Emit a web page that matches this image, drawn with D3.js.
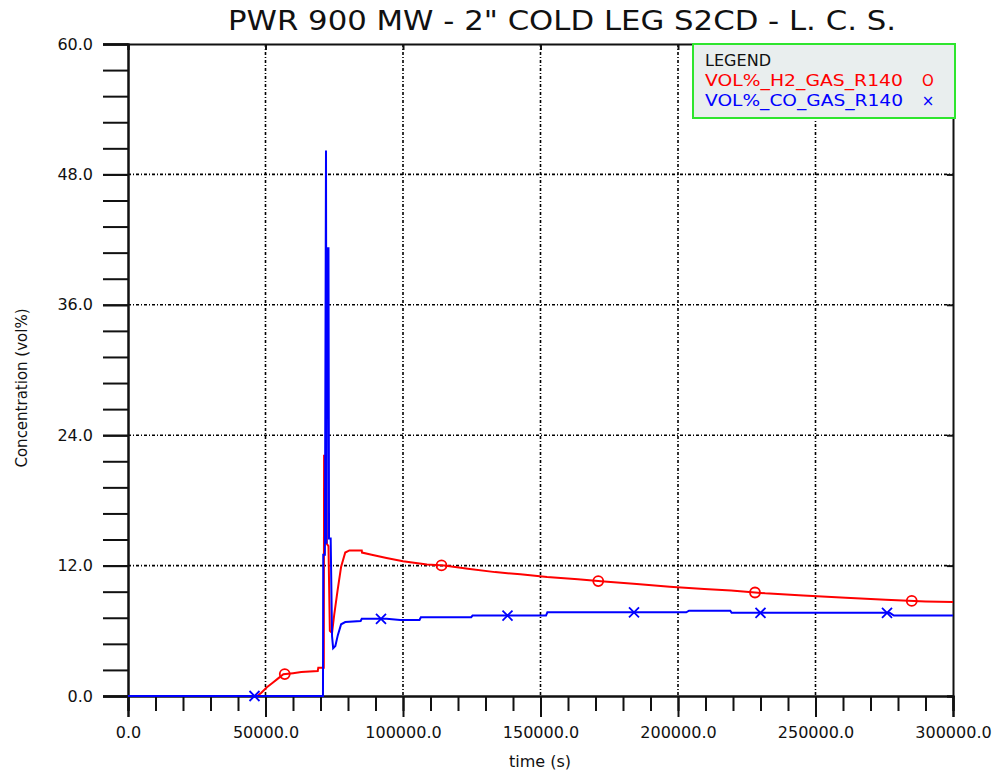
<!DOCTYPE html>
<html>
<head>
<meta charset="utf-8">
<script src="https://cdn.jsdelivr.net/npm/d3@7"></script>
<style>
  html, body { margin: 0; padding: 0; background: #fff; }
  svg { display: block; }
  text { font-family: "DejaVu Sans", sans-serif; }
</style>
</head>
<body>
<svg id="chart" width="995" height="778"></svg>
<script>
// ---------------- data ----------------
const chartTitle = "PWR 900 MW - 2\" COLD LEG S2CD - L. C. S.";
const xLabel = "time (s)";
const yLabel = "Concentration (vol%)";
const seriesNames = ["VOL%_H2_GAS_R140", "VOL%_CO_GAS_R140"];
const seriesSymbols = ["O", "×"];

const xTickValues = [0, 50000, 100000, 150000, 200000, 250000, 300000];
const xTickLabels = ["0.0", "50000.0", "100000.0", "150000.0", "200000.0", "250000.0", "300000.0"];
const yTickValues = [0, 12, 24, 36, 48, 60];
const yTickLabels = ["0.0", "12.0", "24.0", "36.0", "48.0", "60.0"];

const h2Time = [0, 47000, 48500, 50500, 52500, 54500, 56500, 60000, 63000, 69000, 69200, 71200,
  71300, 72000, 72300, 72900, 73400, 74200, 75000, 76200, 77500, 79000, 80500, 85000, 85100,
  88600, 94000, 100000, 108700, 115000, 123600, 133500, 142700, 152400, 163600, 172000, 185000,
  197000, 209500, 219300, 231700, 245500, 261000, 275500, 290000, 300000];
const h2Vals = [0, 0, 0.3, 0.8, 1.2, 1.6, 2.0, 2.1, 2.2, 2.3, 2.6, 2.6,
  22.1, 22.1, 14.0, 13.8, 6.0, 5.8, 7.5, 9.7, 11.9, 13.2, 13.4, 13.4, 13.2,
  13.0, 12.7, 12.4, 12.1, 12.0, 11.7, 11.4, 11.2, 10.95, 10.75, 10.55, 10.3,
  10.05, 9.85, 9.7, 9.45, 9.25, 9.05, 8.85, 8.7, 8.65];

const coTime = [0, 70900, 71000, 71600, 72000, 72200, 72400, 72900, 73100, 73700, 74200, 74600,
  75400, 76300, 77500, 79000, 84600, 85000, 94000, 99000, 106000, 106500, 124800, 125300,
  152000, 152500, 203000, 204000, 219000, 219500, 277000, 278500, 300000];
const coVals = [0, 0, 13, 13, 50.2, 14, 41.2, 41.2, 14.5, 14.5, 5.5, 4.4,
  4.6, 5.6, 6.6, 6.8, 6.9, 7.1, 7.1, 7.0, 7.0, 7.25, 7.25, 7.4,
  7.4, 7.7, 7.7, 7.85, 7.85, 7.65, 7.65, 7.4, 7.4];

const h2MarkerTimes = [57000, 114000, 171000, 228000, 285000];
const coMarkerTimes = [46000, 92000, 138000, 184000, 230000, 276000];

// ---------------- layout ----------------
const svg = d3.select("#chart");
const L = 128, R = 953, T = 44, B = 696;
const x = d3.scaleLinear().domain([0, 300000]).range([L, R]);
const y = d3.scaleLinear().domain([0, 60]).range([B, T]);

const red = "#ff0000", blue = "#0000ff";

// grid
const gridDash = "3,2,1,2";
const g = svg.append("g");
g.selectAll("line.vg").data(xTickValues.slice(1, -1)).enter().append("line")
  .attr("x1", d => x(d)).attr("x2", d => x(d)).attr("y1", T).attr("y2", B)
  .attr("stroke", "#000").attr("stroke-width", 1.6).attr("stroke-dasharray", gridDash);
g.selectAll("line.hg").data(yTickValues.slice(1, -1)).enter().append("line")
  .attr("x1", L).attr("x2", R).attr("y1", d => y(d)).attr("y2", d => y(d))
  .attr("stroke", "#000").attr("stroke-width", 1.6).attr("stroke-dasharray", gridDash);

// axes
const xMinor = d3.range(0, 300001, 10000);
const yMinor = d3.range(0, 61, 2.4);

const xAxisMinor = d3.axisBottom(x).tickValues(xMinor).tickSize(15).tickFormat("");
const xAxisMajor = d3.axisBottom(x).tickValues(xTickValues).tickSize(21)
  .tickFormat((d, i) => xTickLabels[i]).tickPadding(10);
const yAxisMinor = d3.axisLeft(y).tickValues(yMinor).tickSize(25).tickFormat("");
const yAxisMajor = d3.axisLeft(y).tickValues(yTickValues).tickSize(25)
  .tickFormat((d, i) => yTickLabels[i]).tickPadding(10);

function styleAxis(sel) {
  sel.select(".domain").attr("stroke", "#111").attr("stroke-width", 2);
  sel.selectAll(".tick line").attr("stroke", "#111").attr("stroke-width", 2);
  sel.selectAll(".tick text").attr("fill", "#111").attr("font-size", 16)
    .attr("font-family", "DejaVu Sans, sans-serif");
}
svg.append("g").attr("transform", `translate(0,${B})`).call(xAxisMinor).call(styleAxis);
svg.append("g").attr("transform", `translate(0,${B})`).call(xAxisMajor).call(styleAxis);
svg.append("g").attr("transform", `translate(${L},0)`).call(yAxisMinor).call(styleAxis);
svg.append("g").attr("transform", `translate(${L},0)`).call(yAxisMajor).call(styleAxis);

// top and right frame
const topAx = d3.axisTop(x).tickValues(xTickValues).tickSize(-6).tickFormat("");
const rightAx = d3.axisRight(y).tickValues(yTickValues).tickSize(-6).tickFormat("");
svg.append("g").attr("transform", `translate(0,${T})`).call(topAx).call(styleAxis);
svg.append("g").attr("transform", `translate(${R},0)`).call(rightAx).call(styleAxis);

// lines
const h2Data = h2Time.map((t, i) => [t, h2Vals[i]]);
const coData = coTime.map((t, i) => [t, coVals[i]]);
const line = d3.line().x(d => x(d[0])).y(d => y(d[1]));

svg.append("path").datum(h2Data).attr("d", line)
  .attr("fill", "none").attr("stroke", red).attr("stroke-width", 2);
svg.append("path").datum(coData).attr("d", line)
  .attr("fill", "none").attr("stroke", blue).attr("stroke-width", 2);

// markers placed on lines
function valueAt(times, vals, t) {
  const i = d3.bisectRight(times, t);
  if (i <= 0) return vals[0];
  if (i >= times.length) return vals[vals.length - 1];
  const t0 = times[i - 1], t1 = times[i];
  return vals[i - 1] + (vals[i] - vals[i - 1]) * (t - t0) / (t1 - t0);
}
svg.selectAll("circle.h2m").data(h2MarkerTimes).enter().append("circle")
  .attr("cx", d => x(d)).attr("cy", d => y(valueAt(h2Time, h2Vals, d)))
  .attr("r", 5).attr("fill", "none").attr("stroke", red).attr("stroke-width", 1.8);
svg.selectAll("path.com").data(coMarkerTimes).enter().append("path")
  .attr("transform", d => `translate(${x(d)},${y(valueAt(coTime, coVals, d))})`)
  .attr("d", "M-5,-5L5,5M-5,5L5,-5")
  .attr("stroke", blue).attr("stroke-width", 1.8).attr("fill", "none");

// title
svg.append("text").attr("x", 562).attr("y", 30).attr("text-anchor", "middle")
  .attr("font-size", 26).attr("fill", "#111")
  .attr("textLength", 668).attr("lengthAdjust", "spacingAndGlyphs")
  .text(chartTitle);

// axis titles
svg.append("text").attr("x", 540).attr("y", 767).attr("text-anchor", "middle")
  .attr("font-size", 16).attr("fill", "#111").text(xLabel);
svg.append("text").attr("transform", "translate(27,388) rotate(-90)")
  .attr("text-anchor", "middle").attr("font-size", 15).attr("fill", "#111")
  .text(yLabel);

// legend
const lg = svg.append("g");
lg.append("rect").attr("x", 693).attr("y", 44).attr("width", 262).attr("height", 74)
  .attr("fill", "#e9eeee").attr("stroke", "#2ee52e").attr("stroke-width", 2);
lg.append("text").attr("x", 705).attr("y", 66).attr("font-size", 15).attr("fill", "#111")
  .attr("textLength", 66).attr("lengthAdjust", "spacingAndGlyphs").text("LEGEND");
const legColors = [red, blue];
seriesNames.forEach((n, i) => {
  lg.append("text").attr("x", 705).attr("y", 86 + i * 20).attr("font-size", 15)
    .attr("fill", legColors[i]).attr("textLength", 198).attr("lengthAdjust", "spacingAndGlyphs")
    .text(n);
  lg.append("text").attr("x", 928).attr("y", 86 + i * 20).attr("font-size", 15)
    .attr("text-anchor", "middle").attr("fill", legColors[i]).text(seriesSymbols[i]);
});
</script>
</body>
</html>
